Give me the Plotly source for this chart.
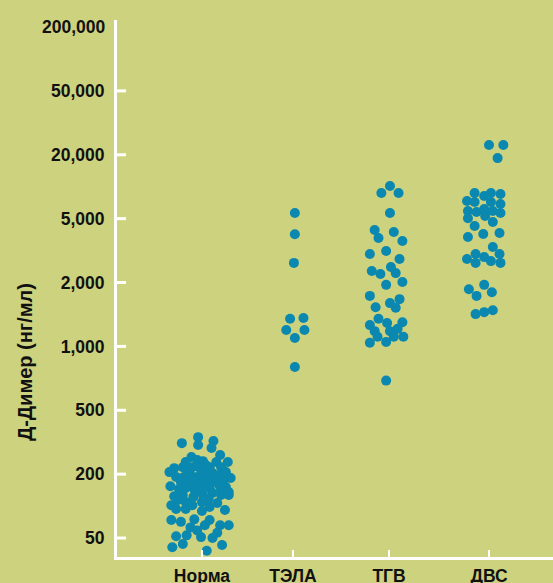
import numpy as np
import plotly.graph_objects as go

# ---------------- data ----------------
categories = ["Норма", "ТЭЛА", "ТГВ", "ДВС"]
tick_values = [50, 200, 500, 1000, 2000, 5000, 20000, 50000, 200000]
tick_labels = ["50", "200", "500", "1,000", "2,000", "5,000", "20,000", "50,000", "200,000"]

# D-dimer values, ng/ml
norma_values = [340, 312, 304, 322, 291, 263, 256, 238, 245, 241, 238, 238,
                218, 206, 221, 221, 218, 221, 221, 206, 184, 188, 188, 196,
                188, 196, 203, 196, 169, 169, 165, 165, 169, 158, 151, 154,
                145, 148, 148, 151, 148, 142, 136, 124, 127, 122, 127, 133,
                127, 127, 114, 109, 102, 109, 117, 107, 102, 94, 94, 90,
                98, 92, 74, 71, 75, 74, 66, 63, 59, 66, 66, 52,
                53, 51, 50, 56, 41, 44, 38, 43, 212, 176, 136, 184,
                176, 176, 228]
# horizontal jitter of each dot, hundredths of a category step
norma_jitter = [-4, -21, -4, 12, 10, 19, -11, -17, -5, 1, 15, 27,
                -29, -34, -20, -10, -2, 8, 20, 25, 30, -27, -19, -12,
                -5, 3, 11, 18, -22, -14, -5, 1, 11, 18, 25, -33,
                -24, -17, -9, 0, 8, 20, 28, -29, -20, -9, 1, 11,
                20, 28, -25, -17, -10, 0, 7, 16, -32, -27, -17, 0,
                8, 24, -32, -22, -8, 8, 3, -12, -5, 19, 28, -27,
                -16, -1, 11, 16, -31, -20, 5, 21, -15, 5, -7, 14,
                23, -10, 4]

tela_values = [5650, 4000, 2650, 1350, 1360, 1195, 1195, 1095, 800]
tela_jitter = [2, 2, 1, -3, 11, -7, 12, 2, 2]

tgv_values = [10140, 8720, 8720, 5650, 4250, 4130, 3790, 3630, 3140, 3010,
              2800, 2360, 2500, 2260, 2290, 2015, 1950, 1730, 1670, 1600,
              1530, 1520, 1350, 1260, 1290, 1300, 1180, 1180, 1210, 1110,
              1110, 1110, 1040, 1050, 690]
tgv_jitter = [1, -8, 10, 1, -15, 5, -11, 14, -3, -20,
              11, -18, 2, -9, 7, 14, -3, -20, 11, 1,
              -14, 7, -11, -20, -2, 14, -15, 1, 9, -12,
              5, 15, -20, -3, -3]

dvs_values = [23000, 23000, 18600, 8720, 8170, 8720, 8530, 7330, 7170, 7170,
              6870, 5900, 5770, 6160, 5900, 5650, 5050, 5290, 4770, 4500,
              3840, 4010, 4070, 3330, 2800, 3010, 2880, 2720, 3010, 2650,
              2650, 1860, 1950, 1800, 1730, 1420, 1450, 1480]
dvs_jitter = [0, 15, 9, -15, -5, 2, 12, -23, -15, 2,
              12, -22, -13, -5, 4, 12, -22, -4, 4, -15,
              -22, -6, 11, 4, -23, -14, -5, 2, 11, -14,
              12, -21, -5, 3, -13, -14, -5, 4]

groups = [
    (norma_values, norma_jitter),
    (tela_values, tela_jitter),
    (tgv_values, tgv_jitter),
    (dvs_values, dvs_jitter),
]

# ---------------- scale: evenly spaced tick labels, log-interpolated between ----------------
_lt = np.log10(np.array(tick_values, dtype=float))
_idx = np.arange(len(tick_values), dtype=float)


def to_axis(vals):
    lv = np.log10(np.asarray(vals, dtype=float))
    res = np.interp(lv, _lt, _idx)
    lo = lv < _lt[0]
    res[lo] = (lv[lo] - _lt[0]) / (_lt[1] - _lt[0])
    hi = lv > _lt[-1]
    res[hi] = _idx[-1] + (lv[hi] - _lt[-1]) / (_lt[-1] - _lt[-2])
    return res


# ---------------- layout constants ----------------
cat_pos = [0.0, 0.951, 1.955, 3.0]
X_RANGE = [-0.888, 3.669]
Y_RANGE = [-0.297, 8.11]
BG = "#cdd27f"
DOT = "#0a88b0"
FONT = "Liberation Sans, Arial, sans-serif"
TXT = "#111111"
PLOT_W, PLOT_H = 436, 537
x_per_px = (X_RANGE[1] - X_RANGE[0]) / PLOT_W
y_per_px = (Y_RANGE[1] - Y_RANGE[0]) / PLOT_H

fig = go.Figure()

for i, (vals, jit) in enumerate(groups):
    xs = cat_pos[i] + np.asarray(jit, dtype=float) / 100.0
    fig.add_trace(go.Scatter(
        x=xs, y=to_axis(vals), mode="markers",
        marker=dict(size=10, color=DOT, line=dict(width=0)),
        name=categories[i], showlegend=False, hoverinfo="skip",
    ))

# tick marks drawn as white line traces pointing into the plot
ytx, yty = [], []
for k in range(0, 8):
    ytx += [X_RANGE[0], X_RANGE[0] + 9 * x_per_px, None]
    yty += [k, k, None]
fig.add_trace(go.Scatter(x=ytx, y=yty, mode="lines",
                         line=dict(color="white", width=3),
                         showlegend=False, hoverinfo="skip", cliponaxis=False))
xtx, xty = [], []
for p in cat_pos:
    xtx += [p, p, None]
    xty += [Y_RANGE[0], Y_RANGE[0] + 7 * y_per_px, None]
fig.add_trace(go.Scatter(x=xtx, y=xty, mode="lines",
                         line=dict(color="white", width=2),
                         showlegend=False, hoverinfo="skip", cliponaxis=False))

fig.update_layout(
    width=553, height=583,
    margin=dict(l=117, r=0, t=20, b=26),
    paper_bgcolor=BG, plot_bgcolor=BG,
    font=dict(family=FONT, size=17, color=TXT, weight="bold"),
    showlegend=False,
)
fig.update_xaxes(
    range=X_RANGE, tickvals=cat_pos, ticktext=categories,
    showgrid=False, zeroline=False, automargin=False,
    showline=True, linecolor="white", linewidth=3,
    ticks="",
    tickfont=dict(family=FONT, size=17.5, color=TXT, weight="bold"),
    ticklabelstandoff=1,
)
fig.update_yaxes(
    range=Y_RANGE, tickvals=list(range(8)), ticktext=tick_labels[:8],
    showgrid=False, zeroline=False, automargin=False,
    showline=True, linecolor="white", linewidth=3,
    ticks="",
    tickfont=dict(family=FONT, size=17.5, color=TXT, weight="bold"),
    ticklabelstandoff=6,
)
fig.add_annotation(
    x=-0.02, y=8, xref="paper", yref="y", text=tick_labels[8],
    showarrow=False, xanchor="right", yanchor="middle",
    font=dict(family=FONT, size=17.5, color=TXT, weight="bold"),
)
fig.add_annotation(
    x=-0.211, y=0.363, xref="paper", yref="paper", text="Д-Димер (нг/мл)",
    textangle=-90, showarrow=False, xanchor="center", yanchor="middle",
    font=dict(family=FONT, size=20, color=TXT, weight="bold"),
)

fig.write_html("out.html", config={"displayModeBar": False},
               post_script="document.body.style.margin='0';")
